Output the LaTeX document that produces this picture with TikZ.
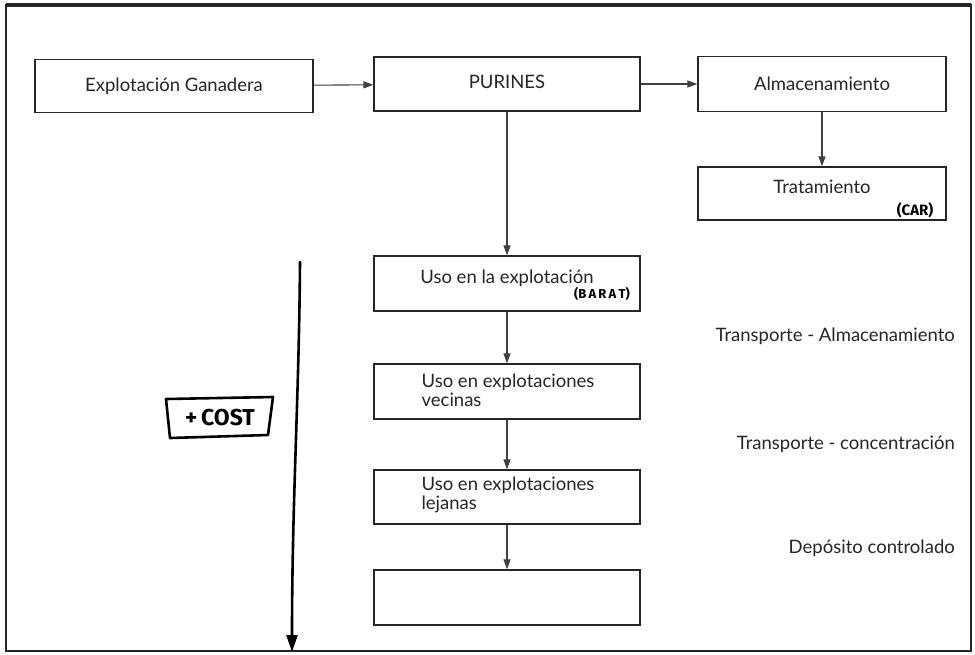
\documentclass[tikz,border=0pt]{standalone}
\usepackage{fontspec}
\setmainfont{Lato}
\newfontfamily\handfont{Fira Sans}
\usetikzlibrary{arrows.meta}
\tikzset{
  box/.style={draw=black!85, line width=1.3pt, rectangle, minimum width=266pt, minimum height=54pt, inner sep=0pt, font=\fontsize{18.5}{19}\selectfont, text=black!85, align=center},
  wbox/.style={box, minimum width=248pt},
  txt/.style={font=\fontsize{18.5}{19}\selectfont, text=black!85, inner sep=0pt},
  flow/.style={draw=black!75, line width=1.1pt, -{Triangle[length=10pt,width=7pt]}},
  side/.style={txt, anchor=east},
  hand/.style={font=\handfont\bfseries\fontsize{15}{16}\selectfont, inner sep=0pt, text=black},
}
\begin{document}
\begin{tikzpicture}[x=1pt,y=-1pt]
\useasboundingbox (0,0) rectangle (975,654);
\fill[white] (0,0) rectangle (975,654);
% frame
\draw[line width=2.2pt, black!85] (6,5) rectangle (971,651);
\draw[line width=3.2pt, black!85] (6,5) -- (971,5);

\node[box, minimum width=278pt, minimum height=53pt] (eg) at (174,86) {Explotación Ganadera};
\node[box] (pu) at (507,84) {};
\node[txt] (put) at (507,82) {PURINES};
\node[wbox, minimum height=55pt] (al) at (822,84) {Almacenamiento};
\node[wbox, minimum height=53pt] (tr) at (822,193.5) {};
\node[txt] (trt) at (822,187) {Tratamiento};
\node[hand] (car) at (915,210) {(CAR)};

\node[box, minimum height=55pt] (u1) at (507,283.5) {};
\node[txt] (u1t) at (507,278) {Uso en la explotación};
\node[hand, font=\handfont\bfseries\fontsize{13}{14}\selectfont] (bar) at (602,294) {(B\,A\,R\,A\,T)};

\node[box, minimum height=55pt] (u2) at (507,391.5) {};
\node[txt, align=left] (u2t) at (508,390) {Uso en explotaciones\\vecinas};
\node[box, minimum height=54pt] (u3) at (507,497) {};
\node[txt, align=left] (u3t) at (508,495) {Uso en explotaciones\\lejanas};
\node[box, minimum height=55pt] (u4) at (507,597.5) {};

\draw[flow] (eg) -- (pu);
\draw[flow] (pu) -- (al);
\draw[flow] (al) -- (tr);
\draw[flow] (pu) -- (u1);
\draw[flow] (u1) -- (u2);
\draw[flow] (u2) -- (u3);
\draw[flow] (u3) -- (u4);

\node[side] (s1) at (955,336) {Transporte - Almacenamiento};
\node[side] (s2) at (955,444) {Transporte - concentración};
\node[side] (s3) at (955,548) {Depósito controlado};

% hand-drawn cost arrow
\coordinate (ca) at (300,262);
\coordinate (cb) at (292,652);
\draw[line width=2.6pt, black, line cap=round, -{Triangle[length=17pt,width=11pt]}] (ca) .. controls (299,400) and (292,500) .. (cb);
\coordinate (k1) at (166,399);
\coordinate (k2) at (273,397);
\coordinate (k3) at (268,435);
\coordinate (k4) at (170,438);
\draw[line width=2.6pt, black, line join=round] (k1) -- (k2) -- (k3) -- (k4) -- cycle;
\node[hand, font=\handfont\bfseries\fontsize{23}{24}\selectfont] (cost) at (220,418) {+\,COST};
\end{tikzpicture}
\end{document}
